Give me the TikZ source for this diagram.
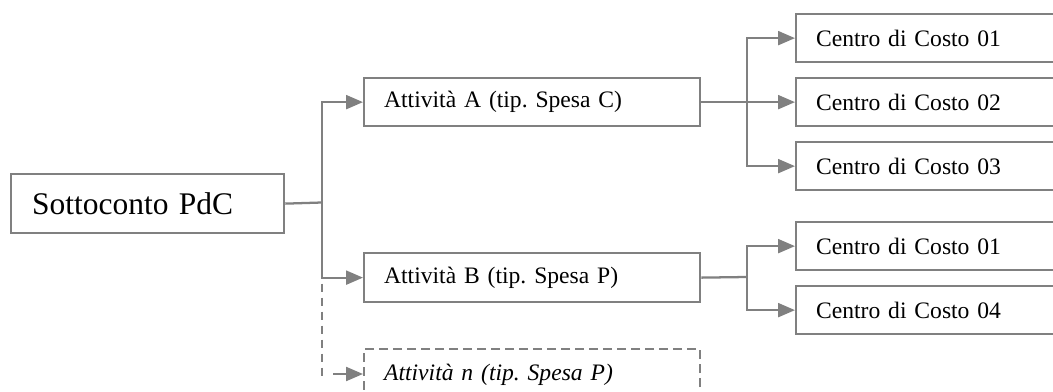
\documentclass[tikz,border=0pt]{standalone}
\usepackage{fontspec}
\setmainfont{Liberation Serif}
\usetikzlibrary{arrows.meta}
\definecolor{lg}{HTML}{808080}
\frenchspacing
\tikzset{
  box/.style={draw=lg, line width=1.7pt, fill=white, anchor=north west, inner xsep=15pt, inner ysep=0pt, align=left, font=\fontsize{17.7}{20}\selectfont},
  actbox/.style={box, text width=222pt, minimum height=36pt},
  ccbox/.style={box, text width=198.75pt, minimum height=36pt},
  conn/.style={draw=lg, line width=1.7pt},
  arr/.style={conn, -{Triangle[length=12.75pt,width=10.5pt]}},
  dashline/.style={dash pattern=on 6.5pt off 4pt}
}
\begin{document}
\begin{tikzpicture}[x=0.75pt,y=-0.75pt]
\useasboundingbox (0,0) rectangle (1053,392);
% root
\node[box, text width=173.25pt, inner xsep=15.75pt, minimum height=44.25pt, font=\fontsize{23.6}{26}\selectfont] (S) at (10,173) {Sottoconto PdC};
% activities
\node[actbox] (A) at (363,77) {Attività A (tip. Spesa C)};
\node[actbox, minimum height=36.75pt] (B) at (363,252) {Attività B (tip. Spesa P)};
\node[actbox, dashline, minimum height=39pt] (N) at (363,348) {\itshape Attività n (tip. Spesa P)};
% cost centres
\node[ccbox] (C1) at (795,13) {Centro di Costo 01};
\node[ccbox] (C2) at (795,77) {Centro di Costo 02};
\node[ccbox] (C3) at (795,141) {Centro di Costo 03};
\node[ccbox] (C4) at (795,221) {Centro di Costo 01};
\node[ccbox] (C5) at (795,285) {Centro di Costo 04};
% root connectors
\coordinate (t) at (322,202.5);
\draw[conn] (S.east) -- (t);
\draw[arr] (t) |- (A.west);
\draw[arr] (t) |- (B.west);
\coordinate (td) at (322,376);
\coordinate (tn) at (333,374);
\draw[conn, dashline] ([yshift=-4.5pt]t |- B.west) -- (td);
\draw[arr] (tn) -- (tn -| N.west);
% group A
\coordinate (u) at (747,101);
\draw[arr] (A.east) -- (C2.west);
\draw[arr] (u) |- (C1.west);
\draw[arr] (u) |- (C3.west);
% group B
\coordinate (v) at (747,277);
\draw[conn] (B.east) -- (v);
\draw[arr] (v) |- (C4.west);
\draw[arr] (v) |- (C5.west);
\end{tikzpicture}
\end{document}
